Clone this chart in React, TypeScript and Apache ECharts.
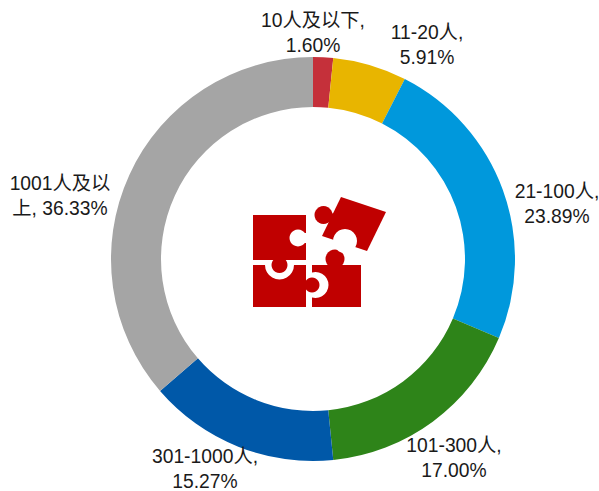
import React, { useEffect, useRef } from "react";
import * as echarts from "echarts";

const categories = ["10人及以下", "11-20人", "21-100人", "101-300人", "301-1000人", "1001人及以上"];
const values = [1.6, 5.91, 23.89, 17.0, 15.27, 36.33];
const labelTexts = ["10人及以下,\n1.60%", "11-20人,\n5.91%", "21-100人,\n23.89%", "101-300人,\n17.00%", "301-1000人,\n15.27%", "1001人及以\n上, 36.33%"];
const colors = ["#c5303a", "#e8b500", "#0098dc", "#2e8419", "#0058a8", "#a5a5a5"];
const labelCentres = [[313, 33], [427, 45], [557, 204], [454, 458], [205, 469], [60, 196]];

const RED = "#c00000";
const WHITE = "#ffffff";

const puzzle = [
  // bottom-right piece with its ring cut-out and top knob
  { type: "rect", shape: { x: 312, y: 265, width: 49, height: 42 }, style: { fill: RED } },
  { type: "circle", shape: { cx: 335, cy: 259, r: 9.5 }, style: { fill: RED } },
  { type: "circle", shape: { cx: 315.5, cy: 285, r: 13 }, style: { fill: WHITE } },
  { type: "rect", shape: { x: 306, y: 265, width: 6, height: 42 }, style: { fill: WHITE } },
  // bottom-left piece with the ring of the upper knob
  { type: "rect", shape: { x: 253, y: 265, width: 53, height: 42 }, style: { fill: RED } },
  { type: "circle", shape: { cx: 312, cy: 285, r: 7.5 }, style: { fill: RED } },
  { type: "circle", shape: { cx: 279.5, cy: 265, r: 14.5 }, style: { fill: WHITE } },
  // top-left piece with its notch and knob
  { type: "rect", shape: { x: 253, y: 215, width: 53, height: 45 }, style: { fill: RED } },
  { type: "circle", shape: { cx: 298, cy: 238, r: 8.5 }, style: { fill: WHITE } },
  { type: "rect", shape: { x: 298, y: 233, width: 8, height: 10 }, style: { fill: WHITE } },
  { type: "circle", shape: { cx: 279.5, cy: 265, r: 8 }, style: { fill: RED } },
  // rotated top-right piece
  { type: "polygon", shape: { points: [[341, 197], [386, 212], [367, 251], [322, 236]] }, style: { fill: RED } },
  { type: "polygon", shape: { points: [[322, 210], [334, 214], [331, 223], [322, 220]] }, style: { fill: RED } },
  { type: "circle", shape: { cx: 323.5, cy: 215, r: 9 }, style: { fill: RED } },
  { type: "circle", shape: { cx: 345, cy: 241, r: 12 }, style: { fill: WHITE } },
];

export default function App() {
  const ref = useRef<HTMLDivElement>(null);
  useEffect(() => {
    const chart = echarts.init(ref.current!, null, { renderer: "svg" });
    chart.setOption({
      animation: false,
      backgroundColor: "#ffffff",
      color: colors,
      graphic: puzzle.map((p) => ({ ...p, silent: true })),
      series: [
        {
          type: "pie",
          center: [313, 259],
          radius: [152, 202],
          startAngle: 90,
          clockwise: true,
          avoidLabelOverlap: false,
          data: categories.map((name, i) => ({ name, value: values[i] })),
          label: {
            show: true,
            position: "outside",
            formatter: (p: any) => labelTexts[p.dataIndex],
            fontFamily: "Liberation Sans, Arial, Noto Sans CJK SC, sans-serif",
            fontSize: 19.3,
            lineHeight: 25,
            color: "#1a1a1a",
            align: "center",
          },
          labelLine: { show: false },
          labelLayout: (p: any) => ({
            x: labelCentres[p.dataIndex][0],
            y: labelCentres[p.dataIndex][1],
            align: "center",
            verticalAlign: "middle",
          }),
          emphasis: { disabled: true },
        },
      ],
    });
    return () => chart.dispose();
  }, []);
  return (
    <div
      ref={ref}
      style={{ width: 599, height: 491, position: "absolute", left: 0, top: 0 }}
    />
  );
}
